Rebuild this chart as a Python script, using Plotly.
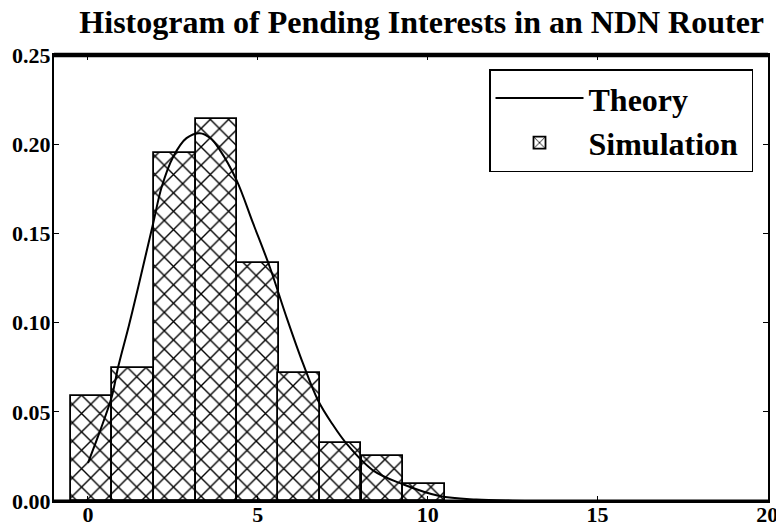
import plotly.graph_objects as go

# Simulation histogram (bin centres, normalised heights)
sim_x = [0.11, 1.33, 2.56, 3.78, 5.0, 6.22, 7.44, 8.67, 9.89]
sim_y = [0.0588, 0.0746, 0.1953, 0.2142, 0.1336, 0.0715, 0.0326, 0.0255, 0.0098]
bin_width = 11 / 9

# Theory curve
theory_x = [0.0, 0.35, 0.7, 0.89, 1.2, 1.48, 1.92, 2.17, 2.51, 2.9, 3.29, 3.6,
            3.88, 4.37, 4.86, 5.35, 5.84, 6.33, 6.77, 7.2, 7.61, 8.39, 9.27,
            10.35, 11.43, 12.5, 14.0, 16.0, 18.0, 20.0]
theory_y = [0.0213, 0.039, 0.0584, 0.0752, 0.098, 0.120, 0.1557, 0.176, 0.193,
            0.2034, 0.2062, 0.2035, 0.1968, 0.180, 0.1557, 0.1313, 0.1033,
            0.0771, 0.0565, 0.043, 0.0322, 0.0172, 0.0094, 0.0028, 0.0008,
            0.0002, 0.0, 0.0, 0.0, 0.0]

x_ticks = [0, 5, 10, 15, 20]
y_ticks = [0.0, 0.05, 0.10, 0.15, 0.20, 0.25]

FONT = "Liberation Serif"

fig = go.Figure()
fig.add_trace(go.Scatter(
    x=theory_x, y=theory_y, mode="lines", name="Theory",
    line=dict(color="black", width=2, shape="spline"),
))
fig.add_trace(go.Bar(
    x=sim_x, y=sim_y, width=bin_width, name="Simulation\u00a0",
    marker=dict(color="white",
                line=dict(color="black", width=1.8),
                pattern=dict(shape="x", size=13, solidity=0.2,
                             fgcolor="black", bgcolor="white")),
))

fig.update_layout(
    template="none",
    width=776, height=524,
    margin=dict(l=54, r=8, t=55, b=23, pad=0),
    paper_bgcolor="white", plot_bgcolor="white",
    font=dict(family=FONT, color="black", size=22, weight="bold"),
    title=dict(text="Histogram of Pending Interests in an NDN Router",
               x=0.515, xanchor="center", xref="paper", y=0.958, yanchor="middle",
               font=dict(family=FONT, size=32, weight="bold", color="black")),
    showlegend=True,
    legend=dict(x=0.979, xanchor="right", y=0.968, yanchor="top",
                bordercolor="black", borderwidth=1.5, bgcolor="white",
                font=dict(family=FONT, size=32, weight="bold"),
                itemwidth=88),
    bargap=0,
)
fig.update_xaxes(range=[-1, 20.02], tickvals=x_ticks, ticktext=[str(v) for v in x_ticks],
                 ticks="inside", ticklen=5, tickwidth=1, tickcolor="black",
                 showline=True, linewidth=2, linecolor="black", mirror="ticks",
                 showgrid=False, zeroline=False, automargin=False,
                 ticklabelstandoff=-7, ticklabeloverflow="allow",
                 tickfont=dict(family=FONT, size=22, weight="bold"))
fig.update_yaxes(range=[0, 0.25], tickvals=y_ticks, tickformat=".2f",
                 ticks="inside", ticklen=5, tickwidth=1, tickcolor="black",
                 showline=True, linewidth=2, linecolor="black", mirror="ticks",
                 showgrid=False, zeroline=False, automargin=False,
                 ticklabelstandoff=-3, ticklabeloverflow="allow",
                 tickfont=dict(family=FONT, size=22, weight="bold"))

# thicker top and bottom spines
fig.add_shape(type="line", xref="paper", yref="paper", x0=0, x1=1, y0=1, y1=1,
              line=dict(color="black", width=4.5), layer="above")
fig.add_shape(type="line", xref="paper", yref="paper", x0=0, x1=1, y0=0, y1=0,
              line=dict(color="black", width=3), layer="above")

fig.write_html(
    "out.html",
    config={"displayModeBar": False},
    post_script="document.body.style.margin='0';document.body.style.overflow='hidden';",
)
